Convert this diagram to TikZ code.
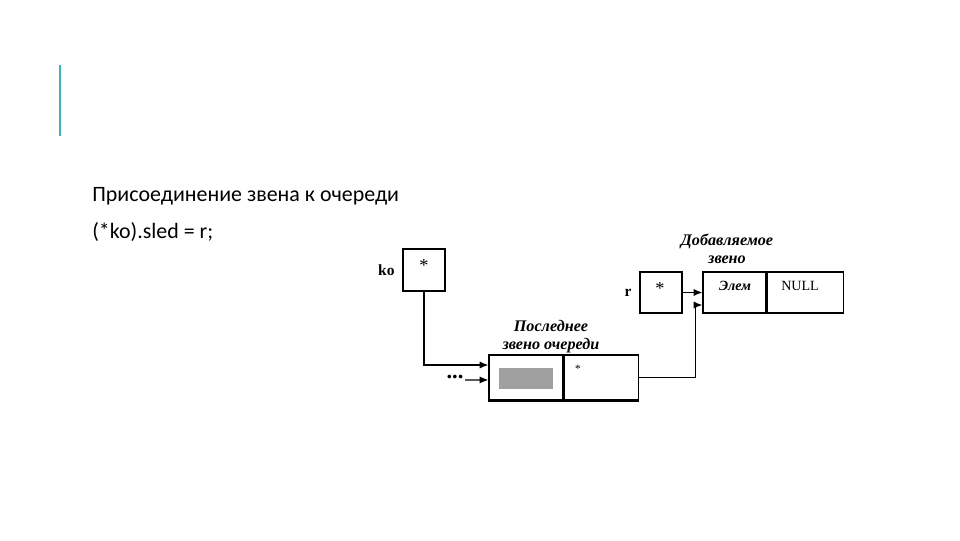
\documentclass[tikz,border=0pt]{standalone}
\usepackage{fontspec}
\setmainfont{Liberation Serif}
\newfontfamily\slidefont{Carlito}
\usetikzlibrary{arrows.meta,positioning}

\begin{document}
\begin{tikzpicture}[x=0.025cm, y=-0.025cm,
  cell/.style={draw, line width=0.9pt, minimum height=1.05cm, inner sep=0pt},
  note/.style={font=\fontsize{11.5}{12.8}\selectfont\bfseries\itshape, align=center},
  tag/.style={font=\fontsize{11}{12}\selectfont\bfseries},
  star/.style={font=\fontsize{13}{14}\selectfont},
  link/.style={-{Latex[length=2.2mm,width=1.8mm]}, line width=0.8pt}]
\useasboundingbox (0,0) rectangle (960,540);
% slide header
\draw[line width=2pt, color={rgb,255:red,59;green,178;blue,190}] (60,65) -- (60,136);
\node (title) [anchor=base west, inner sep=0pt, font=\slidefont\fontsize{15.6}{18}\selectfont] at (92,201) {Присоединение звена к очереди};
\node (code) [anchor=base west, inner sep=0pt, font=\slidefont\fontsize{15.6}{18}\selectfont] at (92,238) {(*ko).sled = r;};

% pointer ko
\node (ko) [cell, minimum width=1.05cm] at (424,270) {};
\node [star] at (424,266) {*};
\node (kotag) [tag, left=2pt of ko] {ko};

% last link of the queue
\node (lastA) [cell, minimum width=1.85cm, minimum height=1.125cm] at (526,377.5) {};
\node (lastB) [cell, minimum width=1.85cm, minimum height=1.125cm, right=0pt of lastA] {};
\draw[line width=1.4pt] (lastA.south west) -- (lastB.south east);
\fill[gray!75] (499,368) rectangle (553,389);
\node at (578,369) {\fontsize{8}{9}\selectfont *};
\node (lastnote) [note] at (551,337) {Последнее\\звено очереди};
\node (dots) [font=\fontsize{16}{16}\selectfont\bfseries, inner sep=1pt] at (455,377) {...};

% pointer r and the added link
\node (rbox) [cell, minimum width=1.05cm, minimum height=1.025cm] at (661,292.5) {};
\node [star] at (660,289) {*};
\node (rtag) [tag, left=2pt of rbox] {r};
\node (newA) [cell, minimum width=1.575cm, minimum height=1.025cm] at (734.5,292.5) {};
\node (newB) [cell, minimum width=1.9cm, minimum height=1.025cm, right=0pt of newA] {};
\node at (735,286) {\fontsize{10}{11}\selectfont\bfseries\itshape Элем};
\node at (800,286) {NULL};
\node (newnote) [note] at (727,249) {Добавляемое\\звено};

% connectors
\draw[link] (ko.south) |- ([yshift=0.3125cm]lastA.west);
\draw[link] (dots.east |- 0,380) -- ([yshift=-0.06cm]lastA.west);
\draw[link] (lastB.east) -- ++(57,0) |- ([yshift=-0.3125cm]newA.west);
\draw[link] (rbox) -- (newA);
\end{tikzpicture}
\end{document}
